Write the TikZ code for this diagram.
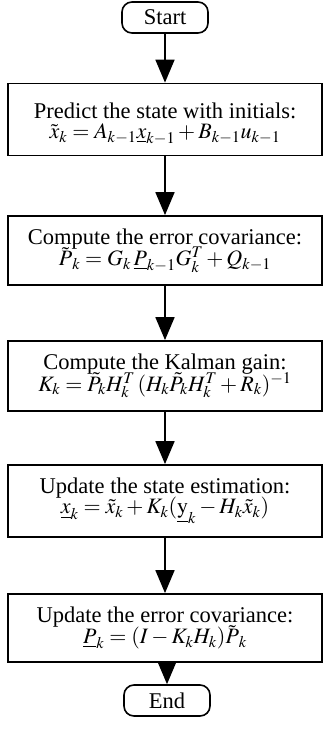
\documentclass[tikz,border=0pt]{standalone}
\usepackage{mathptmx}
\usepackage{amsmath}
\usepackage{fontspec}
\setmainfont{Liberation Serif}
\usetikzlibrary{arrows.meta}
\newcommand{\bx}[1]{\boldsymbol{#1}}
\newcommand{\fml}[1]{{\fontsize{22}{22}\selectfont$#1$}}
\begin{document}
\begin{tikzpicture}[x=1pt,y=1pt,
  every node/.style={font=\fontsize{22.5}{23}\selectfont, inner sep=0pt},
  procbox/.style={draw, line width=1.8pt, minimum width=314pt, align=center},
  termbox/.style={draw, line width=1.6pt, rounded corners=10pt, minimum width=86pt, minimum height=31pt},
  flow/.style={line width=1.8pt, -{Triangle[length=23pt,width=19pt]}}
]
\useasboundingbox (0,0) rectangle (323,-753);
\node[termbox] (start) at (165,-17.5) {Start};
\node[procbox, minimum height=72pt] (b1) at (165,-119.5) {};
\node[align=center] (t1) at (165,-124) {Predict the state with initials:\\[-3pt]
  \fml{\tilde{\bx{x}}_{\bx{k}} = \bx{A}_{\bx{k-1}}\underline{x}_{k-1} + B_{k-1}u_{k-1}}};
\node[procbox, minimum height=69pt] (b2) at (165,-250.5) {Compute the error covariance:\\[-3pt]
  \fml{\tilde{\bx{P}}_{\bx{k}} = \bx{G}_{\bx{k}}\,\underline{\bx{P}}_{\bx{k-1}}G_k^T + Q_{k-1}}};
\node[procbox, minimum height=70pt] (b3) at (165,-376) {Compute the Kalman gain:\\[-3pt]
  \fml{K_k = \tilde{P}_{\bx{k}}H_{\bx{k}}^T\,(H_{\bx{k}}\tilde{P}_{\bx{k}}H_{\bx{k}}^T + R_{\bx{k}})^{-1}}};
\node[procbox, minimum height=72pt] (b4) at (165,-501) {Update the state estimation:\\[-3pt]
  \fml{\underline{x}_k = \tilde{x}_{\bx{k}} + K_{\bx{k}}(\underline{\mathrm{y}}_{\bx{k}} - H_{\bx{k}}\tilde{x}_{\bx{k}})}};
\node[procbox, minimum height=68pt] (b5) at (165,-628) {Update the error covariance:\\[-3pt]
  \fml{\underline{P}_k = (I - K_k H_k)\tilde{\bx{P}}_{\bx{k}}}};
\node[termbox] (end) at (167,-700.5) {End};
\draw[flow] (start) -- (b1);
\draw[flow] (b1) -- (b2);
\draw[flow] (b2) -- (b3);
\draw[flow] (b3) -- (b4);
\draw[flow] (b4) -- (b5);
\draw[flow] (b5.south -| end) -- (end);
\end{tikzpicture}
\end{document}
